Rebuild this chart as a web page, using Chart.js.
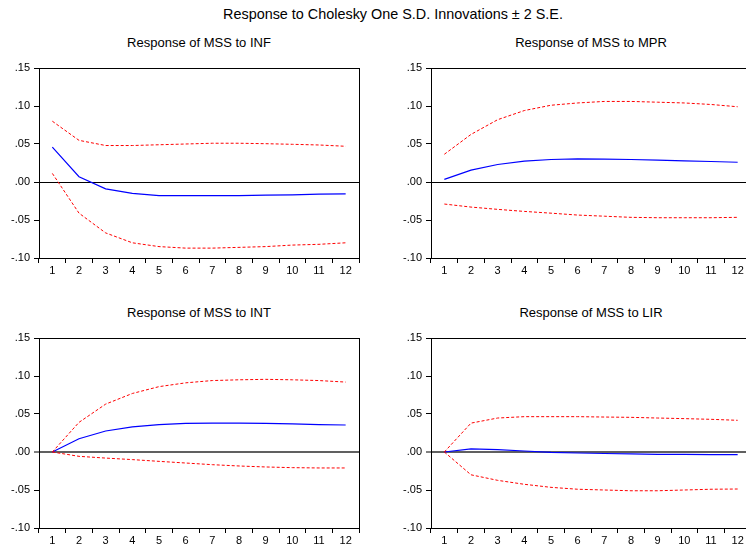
<!DOCTYPE html>
<html>
<head>
<meta charset="utf-8">
<script src="https://cdn.jsdelivr.net/npm/chart.js@4.4.1/dist/chart.umd.min.js"></script>
<style>
html,body{margin:0;padding:0;background:#fff;overflow:hidden;width:746px;height:547px;}
#main{position:absolute;left:0;top:6px;width:786px;text-align:center;font:14.4px "Liberation Sans",Arial,sans-serif;color:#000;white-space:nowrap;}
.pt{position:absolute;width:300px;text-align:center;font:13px "Liberation Sans",Arial,sans-serif;color:#000;white-space:nowrap;line-height:16px;}
.pw{position:absolute;width:373px;height:250px;}
</style>
</head>
<body>
<div id="main">Response to Cholesky One S.D. Innovations ± 2 S.E.</div>
<div class="pt" id="t1" style="left:49px;top:35px"></div>
<div class="pt" id="t2" style="left:441px;top:35px"></div>
<div class="pt" id="t3" style="left:49px;top:305px"></div>
<div class="pt" id="t4" style="left:441px;top:305px"></div>
<div class="pw" style="left:0;top:30px"><canvas id="c1"></canvas></div>
<div class="pw" style="left:392px;top:30px"><canvas id="c2"></canvas></div>
<div class="pw" style="left:0;top:300px"><canvas id="c3"></canvas></div>
<div class="pw" style="left:392px;top:300px"><canvas id="c4"></canvas></div>
<script>
const periods = ['1','2','3','4','5','6','7','8','9','10','11','12'];
const yTicks = [-0.10, -0.05, 0.00, 0.05, 0.10, 0.15];

const titles = ['Response of MSS to INF','Response of MSS to MPR','Response of MSS to INT','Response of MSS to LIR'];

const infResp  = [0.046, 0.007, -0.009, -0.015, -0.018, -0.018, -0.018, -0.018, -0.0174, -0.017, -0.016, -0.0157];
const infUpper = [0.080, 0.0548, 0.048, 0.048, 0.049, 0.050, 0.051, 0.051, 0.0504, 0.0496, 0.0487, 0.047];
const infLower = [0.0113, -0.041, -0.067, -0.080, -0.085, -0.087, -0.087, -0.086, -0.085, -0.083, -0.082, -0.080];

const mprResp  = [0.0035, 0.0157, 0.023, 0.0274, 0.0296, 0.0304, 0.030, 0.0296, 0.0287, 0.0278, 0.027, 0.026];
const mprUpper = [0.0365, 0.0626, 0.082, 0.094, 0.101, 0.104, 0.106, 0.106, 0.105, 0.104, 0.102, 0.099];
const mprLower = [-0.029, -0.033, -0.036, -0.0387, -0.041, -0.0435, -0.045, -0.0465, -0.047, -0.047, -0.047, -0.0465];

const intResp  = [0, 0.0175, 0.0276, 0.033, 0.036, 0.0377, 0.038, 0.038, 0.0377, 0.037, 0.036, 0.0355];
const intUpper = [0, 0.039, 0.063, 0.077, 0.086, 0.091, 0.094, 0.095, 0.0956, 0.095, 0.094, 0.092];
const intLower = [0, -0.0057, -0.008, -0.010, -0.0123, -0.0145, -0.0167, -0.0184, -0.0197, -0.0206, -0.021, -0.021];

const lirResp  = [0, 0.004, 0.003, 0.0013, -0.0004, -0.0013, -0.002, -0.0025, -0.003, -0.003, -0.0035, -0.0035];
const lirUpper = [0, 0.038, 0.0447, 0.0465, 0.0465, 0.0465, 0.046, 0.0456, 0.0447, 0.0439, 0.043, 0.0417];
const lirLower = [0, -0.030, -0.0373, -0.0425, -0.0465, -0.049, -0.050, -0.051, -0.051, -0.050, -0.049, -0.0487];

Chart.defaults.font.family = '"Liberation Sans", Arial, sans-serif';
Chart.defaults.color = '#000';

const frame = {
  id: 'frame',
  afterDraw(chart) {
    const a = chart.chartArea, c = chart.ctx;
    c.save();
    c.strokeStyle = '#000';
    c.lineWidth = 1;
    c.strokeRect(Math.round(a.left) + 0.5, Math.round(a.top) + 0.5, Math.round(a.right - a.left), Math.round(a.bottom - a.top));
    c.restore();
  }
};

function fmt(v) {
  if (Math.abs(v) < 1e-9) return '.00';
  const s = String(Math.round(Math.abs(v) * 100)).padStart(2, '0');
  return (v < 0 ? '-.' : '.') + s;
}

function make(n, resp, up, lo, zeroColor, zeroWidth) {
  document.getElementById('t' + n).textContent = titles[n - 1];
  new Chart(document.getElementById('c' + n), {
    type: 'line',
    data: {
      labels: periods,
      datasets: [
        {data: up, borderColor: '#ff0000', borderWidth: 1, borderDash: [3, 2], pointRadius: 0, tension: 0, fill: false},
        {data: lo, borderColor: '#ff0000', borderWidth: 1, borderDash: [3, 2], pointRadius: 0, tension: 0, fill: false},
        {data: resp, borderColor: '#0000ff', borderWidth: 1.2, pointRadius: 0, tension: 0, fill: false}
      ]
    },
    options: {
      responsive: true,
      maintainAspectRatio: false,
      animation: false,
      layout: {padding: {left: 0, right: 14, top: 38, bottom: 0}},
      plugins: {
        legend: {display: false},
        tooltip: {enabled: false},
        title: {display: false}
      },
      scales: {
        x: {
          type: 'category',
          offset: true,
          grid: {offset: true, drawOnChartArea: false, tickLength: 5, color: '#000', tickColor: '#000'},
          border: {display: true, color: '#000'},
          ticks: {font: {size: 11}, padding: 1, maxRotation: 0, autoSkip: false, color: '#000'},
          afterFit(s) { s.height = 22; }
        },
        y: {
          min: -0.10, max: 0.15,
          afterBuildTicks(s) { s.ticks = yTicks.map(v => ({value: v})); },
          grid: {
            tickLength: 5,
            tickColor: '#000',
            tickWidth: 1,
            color: c => (c.tick && Math.abs(c.tick.value) < 1e-9) ? zeroColor : 'rgba(0,0,0,0)',
            lineWidth: c => (c.tick && Math.abs(c.tick.value) < 1e-9) ? zeroWidth : 1
          },
          border: {display: true, color: '#000'},
          ticks: {font: {size: 11}, padding: 4, color: '#000', callback: v => fmt(v)},
          afterFit(s) { s.width = 39; }
        }
      }
    },
    plugins: [frame]
  });
}

make(1, infResp, infUpper, infLower, '#000', 1);
make(2, mprResp, mprUpper, mprLower, '#000', 1);
make(3, intResp, intUpper, intLower, '#606060', 2);
make(4, lirResp, lirUpper, lirLower, '#606060', 2);
</script>
</body>
</html>
